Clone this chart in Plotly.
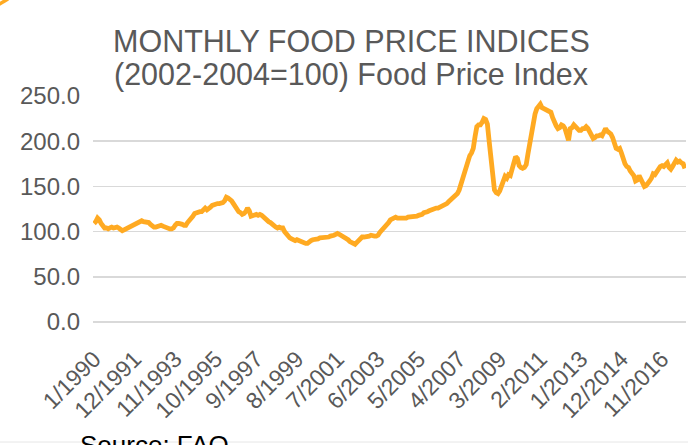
import plotly.graph_objects as go

# Monthly FAO Food Price Index, 1/1990 .. 12/2017 (2002-2004=100)
y1990 = [109, 111, 115, 113, 109, 106, 104, 104, 103, 104, 105, 104]
y1991 = [105, 105, 104, 102, 101, 102, 103, 104, 105, 106, 108, 109]
y1992 = [110, 111, 112, 112, 111, 111, 111, 110, 108, 106, 105, 105]
y1993 = [106, 107, 107, 106, 105, 104, 104, 103, 103, 104, 107, 109]
y1994 = [109, 109, 108, 107, 107, 110, 112, 114, 117, 120, 121, 122]
y1995 = [122, 122, 124, 126, 124, 125, 127, 129, 130, 130, 131, 131]
y1996 = [131, 132, 134, 138, 137, 136, 134, 131, 127, 124, 122, 121]
y1997 = [119, 120, 122, 126, 123, 117, 118, 119, 119, 118, 119, 118]
y1998 = [116, 114, 112, 111, 110, 108, 106, 105, 104, 105, 104, 104]
y1999 = [100, 97, 94, 93, 92, 91, 90, 91, 90, 89, 88, 88]
y2000 = [87, 87, 89, 90, 91, 91, 92, 92, 93, 93, 93, 94]
y2001 = [94, 94, 95, 95, 96, 97, 98, 97, 96, 95, 94, 93]
y2002 = [91, 89, 88, 86, 86, 88, 90, 92, 94, 94, 94, 95]
y2003 = [95, 96, 95, 95, 95, 96, 99, 101, 103, 105, 107, 110]
y2004 = [113, 114, 116, 116, 115, 115, 114, 114, 115, 115, 116, 116]
y2005 = [116, 116, 117, 117, 118, 118, 119, 121, 121, 122, 123, 124]
y2006 = [124, 125, 126, 126, 127, 127, 128, 129, 131, 133, 135, 137]
y2007 = [138, 140, 142, 146, 152, 160, 168, 174, 180, 184, 187, 192]
y2008 = [205, 216, 218, 218, 221, 225, 224, 219, 200, 179, 155, 146]
y2009 = [143, 142, 145, 150, 157, 161, 159, 163, 162, 170, 178, 183]
y2010 = [181, 173, 171, 170, 171, 174, 186, 198, 210, 222, 230, 236]
y2011 = [240, 241, 237, 236, 235, 235, 233, 232, 226, 220, 217, 214]
y2012 = [215, 218, 217, 214, 206, 201, 214, 215, 218, 216, 213, 212]
y2013 = [212, 214, 214, 216, 214, 211, 206, 203, 204, 206, 206, 207]
y2014 = [206, 210, 214, 211, 210, 208, 204, 197, 192, 191, 192, 187]
y2015 = [180, 175, 172, 171, 167, 165, 162, 156, 157, 162, 158, 154]
y2016 = [150, 151, 153, 156, 159, 164, 163, 166, 170, 172, 173, 172]
y2017 = [174, 176, 171, 169, 172, 175, 179, 177, 178, 176, 175, 170]

years = list(range(1990, 2018))
series = [y1990, y1991, y1992, y1993, y1994, y1995, y1996, y1997, y1998, y1999,
          y2000, y2001, y2002, y2003, y2004, y2005, y2006, y2007, y2008, y2009,
          y2010, y2011, y2012, y2013, y2014, y2015, y2016, y2017]

categories = []
values = []
for yr, vals in zip(years, series):
    for m, v in enumerate(vals, start=1):
        categories.append(f"{m}/{yr}")
        values.append(v)

idx = list(range(len(categories)))
tick_step = 23
tick_idx = idx[::tick_step]
tick_labels = [categories[i] for i in tick_idx]
y_ticks = [0, 50, 100, 150, 200, 250]

W, H = 688, 445
L, R, T, B = 93, 2, 96, 123
PW, PH = W - L - R, H - T - B

def px(xp):
    return (xp - L) / PW

def py(yp):
    return (H - B - yp) / PH

grey = "#595959"
orange = "#FFAA22"
FONT = "Liberation Sans, Arial, sans-serif"

fig = go.Figure()
fig.add_trace(go.Scatter(
    x=idx, y=values, mode="lines",
    line=dict(color=orange, width=4.8),
    hoverinfo="skip", showlegend=False,
))

fig.update_layout(
    width=W, height=H, autosize=False,
    margin=dict(l=L, r=R, t=T, b=B, pad=0),
    paper_bgcolor="white", plot_bgcolor="white",
    font=dict(family=FONT, color=grey),
    showlegend=False,
)
fig.update_xaxes(
    range=[-0.6, len(idx) - 0.4],
    tickmode="array", tickvals=tick_idx, ticktext=tick_labels,
    tickangle=-45, tickfont=dict(size=23, color=grey),
    showgrid=False, zeroline=False, showline=False,
    ticks="", ticklabelstandoff=18, automargin=False,
)
fig.update_yaxes(
    range=[0, 250],
    tickmode="array", tickvals=y_ticks, ticktext=[f"{v:.1f}" for v in y_ticks],
    tickfont=dict(size=24, color=grey),
    showgrid=True, gridcolor="#D9D9D9", gridwidth=1.6,
    zeroline=True, zerolinecolor="#D9D9D9", zerolinewidth=1.6,
    showline=False, ticks="", ticklabelstandoff=12, automargin=False,
)

annots = [
    dict(text="MONTHLY FOOD PRICE INDICES", x=px(351), y=py(41), size=30.5, color=grey),
    dict(text="(2002-2004=100) Food Price Index", x=px(351), y=py(74), size=30.5, color=grey),
]
for a in annots:
    fig.add_annotation(text=a["text"], xref="paper", yref="paper", x=a["x"], y=a["y"],
                       xanchor="center", yanchor="middle", showarrow=False,
                       font=dict(size=a["size"], color=a["color"], family=FONT))

fig.add_annotation(text="Source: FAO", xref="paper", yref="paper",
                   x=px(78), y=py(445), xanchor="left", yanchor="middle",
                   showarrow=False,
                   font=dict(size=26, color="black", family=FONT))

# faint frame line near the bottom and orange arc fragment at top-left
fig.add_shape(type="line", xref="paper", yref="paper",
              x0=px(0), x1=px(688), y0=py(442), y1=py(442),
              line=dict(color="#E6E6E6", width=1))
fig.add_shape(type="path", xref="paper", yref="paper",
              path=f"M {px(-2)},{py(5)} Q {px(3)},{py(2)} {px(8)},{py(-1)}",
              line=dict(color=orange, width=3.5))

fig.write_html("out.html",
               config={"displayModeBar": False, "staticPlot": True},
               post_script="document.body.style.margin='0';document.body.style.padding='0';")
